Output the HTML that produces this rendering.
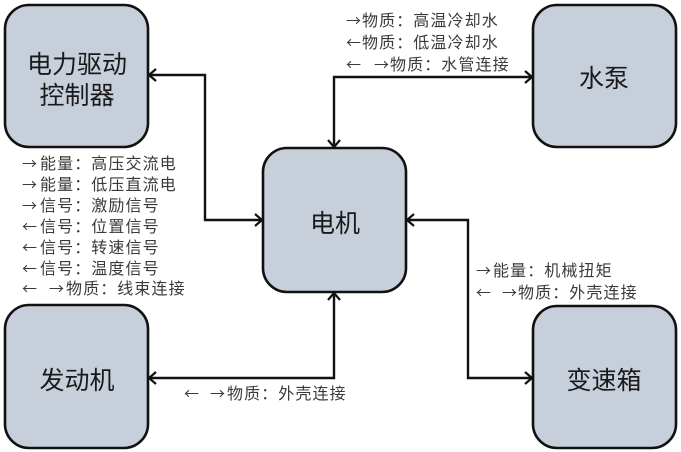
<!DOCTYPE html>
<html><head><meta charset="utf-8"><style>
html,body{margin:0;padding:0;background:#fff;}
svg{display:block;}
.b{fill:#c7cfdb;stroke:#111;stroke-width:2.6;}
.t{font-family:"Liberation Sans","Noto Sans CJK SC",sans-serif;font-size:25px;fill:#1a1a1a;text-anchor:middle;}
.l{font-family:"Liberation Sans","Noto Sans CJK SC",sans-serif;font-size:16px;fill:#3a3a3a;letter-spacing:1.1px;}
.r{font-family:"Noto Sans CJK SC",sans-serif;font-size:15px;fill:#3a3a3a;}
.w{fill:none;stroke:#111;stroke-width:2.4;}
.a{fill:none;stroke:#111;stroke-width:2.2;}
</style></head><body>
<svg width="681" height="452" viewBox="0 0 681 452" xmlns="http://www.w3.org/2000/svg">
<!-- boxes -->
<rect class="b" x="5" y="5" width="143" height="142" rx="24"/>
<rect class="b" x="533" y="5" width="143" height="142" rx="24"/>
<rect class="b" x="263" y="148" width="143" height="144" rx="24"/>
<rect class="b" x="5" y="305" width="143" height="143" rx="24"/>
<rect class="b" x="533" y="306" width="143" height="142" rx="24"/>

<text class="t" x="77" y="73">电力驱动</text>
<text class="t" x="77" y="104">控制器</text>
<text class="t" x="604" y="87">水泵</text>
<text class="t" x="335" y="232">电机</text>
<text class="t" x="77" y="389">发动机</text>
<text class="t" x="604" y="389">变速箱</text>

<!-- connectors -->
<polyline class="w" points="149,75 205,75 205,220 262,220"/>
<polyline class="a" points="156,69 149,75 156,81"/>
<polyline class="a" points="255,214 262,220 255,226"/>

<polyline class="w" points="334,147 334,77 532,77"/>
<polyline class="a" points="328,140 334,147 340,140"/>
<polyline class="a" points="525,71 532,77 525,83"/>

<polyline class="w" points="407,220 468,220 468,378 532,378"/>
<polyline class="a" points="414,214 407,220 414,226"/>
<polyline class="a" points="525,372 532,378 525,384"/>

<polyline class="w" points="334,293 334,378 149,378"/>
<polyline class="a" points="328,300 334,293 340,300"/>
<polyline class="a" points="156,372 149,378 156,384"/>

<!-- top labels -->
<text class="r" x="346" y="26">→</text><text class="l" x="362" y="26">物质：高温冷却水</text>
<text class="r" x="346" y="48">←</text><text class="l" x="362" y="48">物质：低温冷却水</text>
<text class="r" x="346" y="70">←</text><text class="r" x="374" y="70">→</text><text class="l" x="390" y="70">物质：水管连接</text>

<!-- left labels -->
<text class="r" x="22" y="169">→</text><text class="l" x="40" y="169">能量：高压交流电</text>
<text class="r" x="22" y="190">→</text><text class="l" x="40" y="190">能量：低压直流电</text>
<text class="r" x="22" y="211">→</text><text class="l" x="40" y="211">信号：激励信号</text>
<text class="r" x="22" y="232">←</text><text class="l" x="40" y="232">信号：位置信号</text>
<text class="r" x="22" y="253">←</text><text class="l" x="40" y="253">信号：转速信号</text>
<text class="r" x="22" y="274">←</text><text class="l" x="40" y="274">信号：温度信号</text>
<text class="r" x="22" y="294">←</text><text class="r" x="49" y="294">→</text><text class="l" x="66" y="294">物质：线束连接</text>

<!-- right labels -->
<text class="r" x="476" y="276">→</text><text class="l" x="493" y="276">能量：机械扭矩</text>
<text class="r" x="476" y="298">←</text><text class="r" x="502" y="298">→</text><text class="l" x="518" y="298">物质：外壳连接</text>

<!-- bottom label -->
<text class="r" x="184" y="399">←</text><text class="r" x="210" y="399">→</text><text class="l" x="227" y="399">物质：外壳连接</text>
</svg>
</body></html>
